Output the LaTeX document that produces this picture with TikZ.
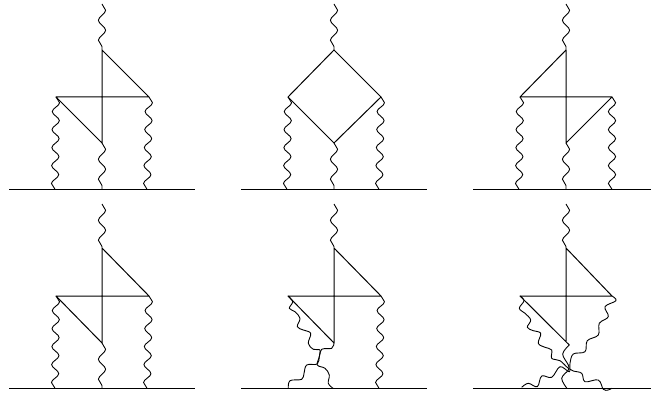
\documentclass[tikz,border=0pt]{standalone}
\usepackage{tikz}
\usetikzlibrary{decorations.pathmorphing}

\begin{document}
\begin{tikzpicture}[
    x=1pt,
    y=-1pt,
    line width=1pt,
    fermion/.style={draw, line join=round},
    base/.style={draw, line width=1.2pt},
    photon/.style={draw, line width=0.9pt, decorate, decoration={snake, segment length=18pt, amplitude=3.6pt, post length=0pt}},
    shortphoton/.style={photon, decoration={segment length=20pt}},
    traced/.style={draw, line width=0.9pt, smooth, tension=0.6},
  ]
  \useasboundingbox (0,0) rectangle (651,393);

  % first row
  \coordinate (topa) at (102,4);
  \coordinate (apexa) at (102,50);
  \coordinate (lefta) at (56,97);
  \coordinate (righta) at (149,97);
  \coordinate (bota) at (102,143);
  \coordinate (baseLa) at (9,189.5);
  \coordinate (baseRa) at (195,189.5);
  \coordinate (footLa) at (55,189.5);
  \coordinate (footMa) at (102,189.5);
  \coordinate (footRa) at (147,189.5);
  \draw[shortphoton] (topa) -- (apexa);
  \draw[fermion] (apexa) -- (righta) -- (lefta) -- (bota) -- (apexa);
  \draw[photon] (lefta) -- (footLa);
  \draw[shortphoton] (bota) -- (footMa);
  \draw[photon] (righta) -- (footRa);
  \draw[base] (baseLa) -- (baseRa);

  \coordinate (topb) at (334,4);
  \coordinate (apexb) at (334,50);
  \coordinate (leftb) at (288,97);
  \coordinate (rightb) at (381,97);
  \coordinate (botb) at (334,143);
  \coordinate (baseLb) at (241,189.5);
  \coordinate (baseRb) at (427,189.5);
  \coordinate (footLb) at (287,189.5);
  \coordinate (footMb) at (334,189.5);
  \coordinate (footRb) at (379,189.5);
  \draw[shortphoton] (topb) -- (apexb);
  \draw[fermion] (apexb) -- (rightb) -- (botb) -- (leftb) -- cycle;
  \draw[photon] (leftb) -- (footLb);
  \draw[shortphoton] (botb) -- (footMb);
  \draw[photon] (rightb) -- (footRb);
  \draw[base] (baseLb) -- (baseRb);

  \coordinate (topc) at (566,4);
  \coordinate (apexc) at (566,50);
  \coordinate (leftc) at (520,97);
  \coordinate (rightc) at (612,97);
  \coordinate (botc) at (566,143);
  \coordinate (baseLc) at (473,189.5);
  \coordinate (baseRc) at (651,189.5);
  \coordinate (footLc) at (519,189.5);
  \coordinate (footMc) at (566,189.5);
  \coordinate (footRc) at (612,189.5);
  \draw[shortphoton] (topc) -- (apexc);
  \draw[fermion] (apexc) -- (leftc) -- (rightc) -- (botc) -- (apexc);
  \draw[photon] (leftc) -- (footLc);
  \draw[shortphoton] (botc) -- (footMc);
  \draw[photon] (rightc) -- (footRc);
  \draw[base] (baseLc) -- (baseRc);

  % second row
  \coordinate (topd) at (102,204);
  \coordinate (apexd) at (102,248);
  \coordinate (leftd) at (56,296);
  \coordinate (rightd) at (149,296);
  \coordinate (botd) at (102,343);
  \coordinate (baseLd) at (9,388.5);
  \coordinate (baseRd) at (195,388.5);
  \coordinate (footLd) at (55,388.5);
  \coordinate (footMd) at (102,388.5);
  \coordinate (footRd) at (147,388.5);
  \draw[shortphoton] (topd) -- (apexd);
  \draw[fermion] (apexd) -- (rightd) -- (leftd) -- (botd) -- (apexd);
  \draw[photon] (leftd) -- (footLd);
  \draw[shortphoton] (botd) -- (footMd);
  \draw[photon] (rightd) -- (footRd);
  \draw[base] (baseLd) -- (baseRd);

  \coordinate (tope) at (334,204);
  \coordinate (apexe) at (334,248);
  \coordinate (lefte) at (288,296);
  \coordinate (righte) at (381,296);
  \coordinate (bote) at (334,343);
  \coordinate (baseLe) at (241,388.5);
  \coordinate (baseRe) at (427,388.5);
  \coordinate (footLe) at (288.3,388.5);
  \coordinate (footMe) at (333.3,388.5);
  \coordinate (footRe) at (379,388.5);
  \draw[shortphoton] (tope) -- (apexe);
  \draw[fermion] (apexe) -- (righte) -- (lefte) -- (bote) -- (apexe);
  \draw[traced] plot[smooth, tension=0.6] coordinates {(lefte) (292.7,301.7) (289.3,308.3) (295,311.7) (300,318.3) (297.3,326.7) (303.3,330) (310.7,333.3) (308.3,343.3) (313.3,349.3) (320,350) (319.3,356.7) (317.3,365) (325,368.3) (329.3,375) (328.3,383.3) (footMe)};
  \draw[traced] plot[smooth, tension=0.6] coordinates {(bote) (331.7,348.3) (321.7,349.3) (319.3,356.7) (317.3,364) (306.7,365) (304,373.3) (301.7,379.3) (290,380.7) (footLe)};
  \draw[photon] (righte) -- (footRe);
  \draw[base] (baseLe) -- (baseRe);

  \coordinate (topf) at (566,204);
  \coordinate (apexf) at (566,248);
  \coordinate (leftf) at (520,296);
  \coordinate (rightf) at (612,296);
  \coordinate (botf) at (569.3,345);
  \coordinate (stemf) at (566,341);
  \coordinate (baseLf) at (473,388.5);
  \coordinate (baseRf) at (651,388.5);
  \coordinate (footLf) at (521.7,387.3);
  \coordinate (footMf) at (566.7,388);
  \coordinate (footRf) at (611.7,388.3);
  \draw[shortphoton] (topf) -- (apexf);
  \draw[fermion] (stemf) -- (apexf) -- (rightf) -- (leftf) -- (botf);
  \draw[traced] plot[smooth, tension=0.6] coordinates {(leftf) (524,300.7) (519.3,308.3) (525,313.3) (530.7,320) (527.3,327.3) (533.3,330.7) (540.7,333.3) (538.3,343.3) (545,347.3) (551.7,350) (551.7,358.3) (560,360.7) (568.3,368.3) (573.3,371) (581.7,373.3) (585,381.7) (598.3,380) (603.3,389.3) (608.3,390) (footRf)};
  \draw[traced] plot[smooth, tension=0.6] coordinates {(rightf) (616,300.7) (605,306.7) (608.3,316.7) (599.3,323.3) (598.3,335) (587.3,340.7) (585,351.7) (573.3,354) (570,363.3) (569.3,371.7) (560,366.7) (551.7,377.3) (541.7,376) (537.3,386.7) (528.3,383.3) (footLf)};
  \draw[traced] plot[smooth, tension=0.6] coordinates {(botf) (562.7,354) (568.3,365) (568.3,370) (561.7,378.3) (footMf)};
  \draw[base] (baseLf) -- (baseRf);
\end{tikzpicture}
\end{document}
